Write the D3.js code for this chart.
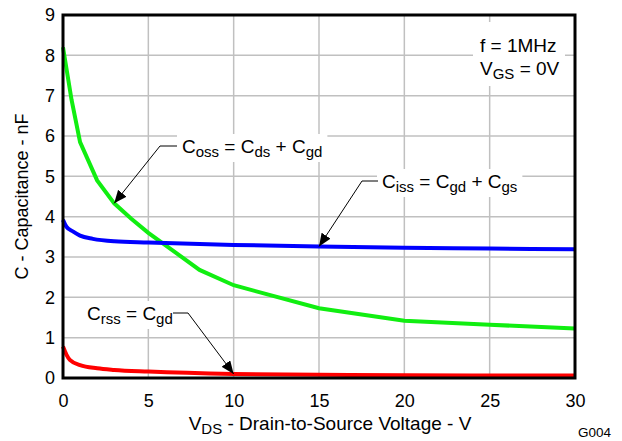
<!DOCTYPE html>
<html>
<head>
<meta charset="utf-8">
<title>Capacitance vs VDS</title>
<script src="https://d3js.org/d3.v7.min.js"></script>
<style>
  body { margin: 0; background: #fff; }
  text { font-family: "Liberation Sans", Arial, sans-serif; fill: #000; }
  .axis path { display: none; }
  .axis line { display: none; }
  .axis text { font-size: 18px; font-family: "Liberation Sans", Arial, sans-serif; }
  .grid line { stroke: #c0c0c0; stroke-width: 1.5; }
</style>
</head>
<body>
<script>
// data
var xTicks = [0, 5, 10, 15, 20, 25, 30];
var yTicks = [0, 1, 2, 3, 4, 5, 6, 7, 8, 9];

var cossV = [0, 0.5, 1, 2, 3, 4, 5, 8, 10, 15, 20, 25, 30];
var cossC = [8.2, 6.9, 5.85, 4.9, 4.33, 3.95, 3.6, 2.68, 2.3, 1.73, 1.42, 1.32, 1.23];

var cissV = [0, 0.2, 0.6, 1, 1.75, 3, 5, 10, 15, 20, 25, 30];
var cissC = [3.92, 3.75, 3.63, 3.53, 3.45, 3.39, 3.36, 3.30, 3.26, 3.23, 3.21, 3.19];

var crssV = [0, 0.2, 0.4, 1, 2, 3, 5, 10, 15, 20, 25, 30];
var crssC = [0.78, 0.58, 0.45, 0.32, 0.24, 0.2, 0.16, 0.1, 0.08, 0.07, 0.06, 0.06];

var width = 622, height = 441;
var mLeft = 63, mRight = 575, mTop = 15, mBottom = 378;

var x = d3.scaleLinear().domain([0, 30]).range([mLeft, mRight]);
var y = d3.scaleLinear().domain([0, 9]).range([mBottom, mTop]);

var svg = d3.select('body').append('svg')
  .attr('width', width)
  .attr('height', height);

svg.append('defs').append('marker')
  .attr('id', 'arrow')
  .attr('markerUnits', 'userSpaceOnUse')
  .attr('viewBox', '0 0 12 10')
  .attr('refX', 12).attr('refY', 5)
  .attr('markerWidth', 13).attr('markerHeight', 11)
  .attr('orient', 'auto')
  .append('path')
  .attr('d', 'M0,0 L12,5 L0,10 Z')
  .attr('fill', '#000');

// grid
var grid = svg.append('g').attr('class', 'grid');
grid.selectAll('.vx').data(xTicks).enter().append('line')
  .attr('x1', function(d) { return x(d); }).attr('x2', function(d) { return x(d); })
  .attr('y1', mTop).attr('y2', mBottom);
grid.selectAll('.hy').data(yTicks).enter().append('line')
  .attr('x1', mLeft).attr('x2', mRight)
  .attr('y1', function(d) { return y(d); }).attr('y2', function(d) { return y(d); });

// axes (labels only)
svg.append('g').attr('class', 'axis')
  .attr('transform', 'translate(0,' + (mBottom + 16) + ')')
  .call(d3.axisBottom(x).tickValues(xTicks).tickSize(0).tickPadding(0));
svg.append('g').attr('class', 'axis')
  .attr('transform', 'translate(' + (mLeft - 8) + ',0)')
  .call(d3.axisLeft(y).tickValues(yTicks).tickSize(0).tickPadding(0));

// text with subscripts: parts = [[str, isSub], ...]
function richText(g, parts, px, py, size) {
  var t = g.append('text').attr('x', px).attr('y', py).style('font-size', size + 'px');
  var shift = 0;
  parts.forEach(function(p) {
    var want = p[1] ? 4 : 0;
    var ts = t.append('tspan').text(p[0]).attr('dy', want - shift);
    if (p[1]) ts.style('font-size', (size - 4) + 'px');
    shift = want;
  });
  return t;
}

function boxedText(parts, px, py, size) {
  var g = svg.append('g');
  var rect = g.append('rect').attr('fill', '#fff');
  var t = richText(g, parts, px, py, size);
  var bb = t.node().getBBox();
  rect.attr('x', bb.x - 5).attr('y', bb.y - 2)
    .attr('width', bb.width + 10).attr('height', bb.height + 4);
  return g;
}

// annotation text boxes (drawn before the curves)
var cond = svg.append('g');
cond.append('rect').attr('fill', '#fff')
  .attr('x', 473).attr('y', 22).attr('width', 92).attr('height', 64);
richText(cond, [['f = 1MHz']], 480, 52, 19);
richText(cond, [['V'], ['GS', 1], [' = 0V']], 480, 75, 19);

boxedText([['C'], ['oss', 1], [' = C'], ['ds', 1], [' + C'], ['gd', 1]], 182, 153, 19);
boxedText([['C'], ['iss', 1], [' = C'], ['gd', 1], [' + C'], ['gs', 1]], 382, 188, 19);
boxedText([['C'], ['rss', 1], [' = C'], ['gd', 1]], 87, 320, 19);

// curves
function series(vs, cs) {
  return vs.map(function(v, i) { return [v, cs[i]]; });
}
function lineGen(curve) {
  return d3.line()
    .x(function(d) { return x(d[0]); })
    .y(function(d) { return y(d[1]); })
    .curve(curve);
}

svg.append('path').datum(series(cossV, cossC))
  .attr('d', lineGen(d3.curveLinear))
  .attr('fill', 'none').attr('stroke', '#11ee11').attr('stroke-width', 4);
svg.append('path').datum(series(cissV, cissC))
  .attr('d', lineGen(d3.curveMonotoneX))
  .attr('fill', 'none').attr('stroke', '#0000ff').attr('stroke-width', 4);
svg.append('path').datum(series(crssV, crssC))
  .attr('d', lineGen(d3.curveMonotoneX))
  .attr('fill', 'none').attr('stroke', '#ff0000').attr('stroke-width', 4);

// leader lines with arrows, tips in data coordinates
function leader(p0, p1, tipV, tipC) {
  svg.append('polyline')
    .attr('points', [p0, p1, [x(tipV), y(tipC)]].map(function(p) { return p.join(','); }).join(' '))
    .attr('fill', 'none').attr('stroke', '#000').attr('stroke-width', 1)
    .attr('marker-end', 'url(#arrow)');
}
leader([177, 146], [160, 146], 3, 4.33);
leader([378, 181], [362, 181], 15, 3.26);
leader([173, 313], [188, 313], 10, 0.1);

// frame
svg.append('rect')
  .attr('x', mLeft).attr('y', mTop)
  .attr('width', mRight - mLeft).attr('height', mBottom - mTop)
  .attr('fill', 'none').attr('stroke', '#000').attr('stroke-width', 3);

// axis titles
var xt = svg.append('text').attr('x', 330).attr('y', 430)
  .attr('text-anchor', 'middle').style('font-size', '19px');
xt.append('tspan').text('V');
xt.append('tspan').text('DS').attr('dy', 4).style('font-size', '15px');
xt.append('tspan').text(' - Drain-to-Source Voltage - V').attr('dy', -4);

svg.append('text')
  .attr('transform', 'translate(28,' + ((mTop + mBottom) / 2) + ') rotate(-90)')
  .attr('text-anchor', 'middle').style('font-size', '18px')
  .text('C - Capacitance - nF');

svg.append('text').attr('x', 578).attr('y', 437)
  .style('font-size', '13.5px').text('G004');
</script>
</body>
</html>
